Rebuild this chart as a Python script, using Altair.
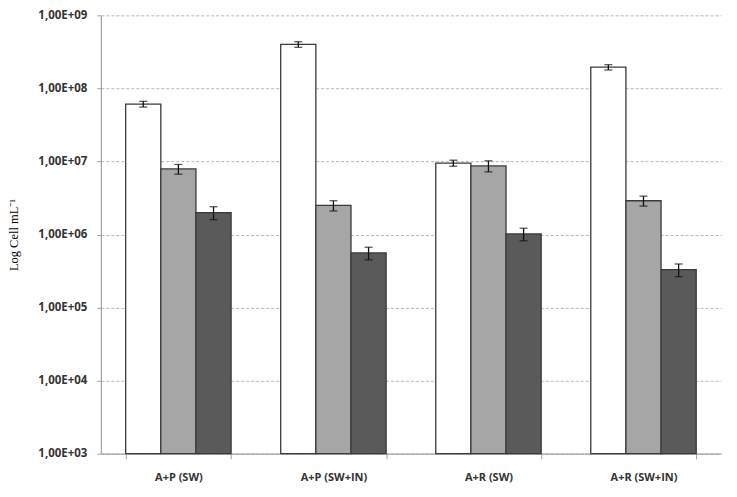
import altair as alt
import pandas as pd

categories = ["A+P (SW)", "A+P (SW+IN)", "A+R (SW)", "A+R (SW+IN)"]
series = ["s1", "s2", "s3"]
values_s1 = [6.1e7, 4.0e8, 9.5e6, 1.95e8]
values_s2 = [7.9e6, 2.5e6, 8.7e6, 2.9e6]
values_s3 = [2.0e6, 5.6e5, 1.02e6, 3.3e5]
err_s1 = [5.5e6, 3.5e7, 9.0e5, 1.6e7]
err_s2 = [1.2e6, 4.0e5, 1.5e6, 4.5e5]
err_s3 = [4.0e5, 1.1e5, 2.0e5, 6.5e4]
y_ticks = [1e3, 1e4, 1e5, 1e6, 1e7, 1e8, 1e9]
fills = ["#ffffff", "#a6a6a6", "#5a5a5a"]

rows = []
for s, vals, errs in zip(series, [values_s1, values_s2, values_s3], [err_s1, err_s2, err_s3]):
    for c, v, e in zip(categories, vals, errs):
        rows.append({"cat": c, "series": s, "value": v, "lo": v - e, "hi": v + e, "base": 1e3})
df = pd.DataFrame(rows)

x = alt.X("cat:N", sort=categories, title=None,
          scale=alt.Scale(paddingInner=0.32, paddingOuter=0.16),
          axis=alt.Axis(labelAngle=0, labelFont="Open Sans", labelFontWeight="bold",
                        labelFontSize=11, labelColor="#333333", labelPadding=13,
                        domainColor="#a0a0a0", domainWidth=1.2, tickColor="#a0a0a0",
                        tickSize=5, tickBand="extent", grid=False))
xo = alt.XOffset("series:N", sort=series, scale=alt.Scale(paddingInner=0, paddingOuter=0))
yscale = alt.Scale(type="log", domain=[1e3, 1e9], nice=False)

bars = alt.Chart(df).mark_bar(stroke="#3a3a3a", strokeWidth=1.3).encode(
    x=x, xOffset=xo,
    y=alt.Y("value:Q", scale=yscale, title="Log Cell mL⁻¹",
            axis=alt.Axis(values=y_ticks,
                          labelExpr="'1,00E+' + (round(log(datum.value)/LN10) < 10 ? '0' : '') + round(log(datum.value)/LN10)",
                          labelFont="Open Sans", labelFontWeight="bold", labelFontSize=11.5,
                          labelColor="#333333", labelPadding=10,
                          domainColor="#a0a0a0", domainWidth=1.2, tickColor="#a0a0a0", tickSize=4,
                          grid=True, gridColor="#b8b8b8", gridDash=[3, 2], gridWidth=1,
                          titleFont="Liberation Serif", titleFontSize=12.5, titleFontWeight="normal",
                          titleColor="#000000", titlePadding=17)),
    y2=alt.Y2("base:Q"),
    fill=alt.Fill("series:N", sort=series, scale=alt.Scale(domain=series, range=fills), legend=None),
)

rules = alt.Chart(df).mark_rule(color="#111111", strokeWidth=1.3).encode(
    x=x, xOffset=xo, y=alt.Y("lo:Q", scale=yscale), y2="hi:Q")
caps_lo = alt.Chart(df).mark_tick(color="#111111", thickness=1.3, size=8).encode(
    x=x, xOffset=xo, y=alt.Y("lo:Q", scale=yscale))
caps_hi = alt.Chart(df).mark_tick(color="#111111", thickness=1.3, size=8).encode(
    x=x, xOffset=xo, y=alt.Y("hi:Q", scale=yscale))

chart = alt.layer(bars, rules, caps_lo, caps_hi).properties(
    width=621, height=439,
    autosize=alt.AutoSizeParams(type="none"),
    padding={"left": 93, "top": 7, "right": 8, "bottom": 40},
    background="white",
).configure_view(stroke=None)

chart.save("out.html", embed_options={"renderer": "svg", "actions": False})
